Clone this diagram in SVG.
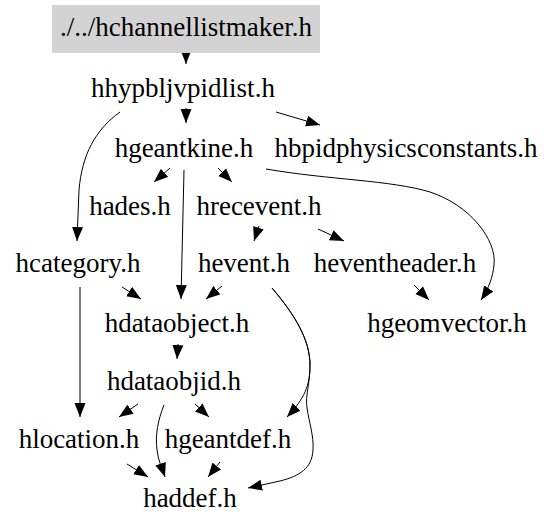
<svg xmlns="http://www.w3.org/2000/svg" width="555" height="528" viewBox="0 0 555 528">
<style>
text{font-family:'Liberation Serif',Tinos,'Times New Roman','DejaVu Serif',serif;font-size:27px;fill:#000;text-anchor:middle}
.e{fill:none;stroke:#000;stroke-width:1;marker-end:url(#a)}
</style>
<defs>
<marker id="a" markerUnits="userSpaceOnUse" markerWidth="15" markerHeight="12" refX="14" refY="5.5" orient="auto" viewBox="0 0 15 11">
<path d="M0,0 L14,5.5 L0,11 z" fill="#000"/>
</marker>
</defs>
<rect width="555" height="528" fill="#fff"/>
<g id="edges">
<path class="e" d="M186,53 L186,64"/>
<path class="e" d="M186,108 L186,123"/>
<path class="e" d="M276,112 L320,125"/>
<path class="e" d="M120,112 C95,130 82,155 79,190 L77,241"/>
<path class="e" d="M170,168 L154,182"/>
<path class="e" d="M218,168 L232,182"/>
<path class="e" d="M184,170 L181,299"/>
<path class="e" d="M266,169 C330,180 390,180 430,192 C470,205 497,240 494,265 C493,276 489,288 481,300"/>
<path class="e" d="M259,226 L254,241"/>
<path class="e" d="M318,229 L344,241"/>
<path class="e" d="M122,287 L141,299"/>
<path class="e" d="M80,287 L80,417"/>
<path class="e" d="M222,286 L206,299"/>
<path class="e" d="M272,288 C295,315 310,340 310,365 C310,385 305,398 287,417"/>
<path class="e" d="M272,288 C295,315 310,340 310,365 C310,385 305,395 307,408 C309,422 314,436 313,450 C312,468 300,476 280,481 L248,488"/>
<path class="e" d="M414,285 L429,300"/>
<path class="e" d="M178,344 L177,359"/>
<path class="e" d="M138,404 L119,417"/>
<path class="e" d="M195,404 L209,417"/>
<path class="e" d="M164,405 C158,420 155,435 157,450 C158,460 162,468 165,477"/>
<path class="e" d="M127,464 L148,477"/>
<path class="e" d="M220,462 L208,477"/>
</g>
<g id="hchannellistmaker"><rect x="52" y="5" width="268" height="48" fill="#d3d3d3"/><text x="186" y="36">./../hchannellistmaker.h</text></g>
<g id="hhypbljvpidlist"><text x="183" y="97">hhypbljvpidlist.h</text></g>
<g id="hgeantkine"><text x="184" y="157">hgeantkine.h</text></g>
<g id="hbpidphysicsconstants"><text x="406" y="157">hbpidphysicsconstants.h</text></g>
<g id="hades"><text x="130" y="215">hades.h</text></g>
<g id="hrecevent"><text x="259" y="215">hrecevent.h</text></g>
<g id="hcategory"><text x="78" y="272">hcategory.h</text></g>
<g id="hevent"><text x="244" y="272">hevent.h</text></g>
<g id="heventheader"><text x="395" y="272">heventheader.h</text></g>
<g id="hdataobject"><text x="177" y="332">hdataobject.h</text></g>
<g id="hgeomvector"><text x="447" y="332">hgeomvector.h</text></g>
<g id="hdataobjid"><text x="174" y="390">hdataobjid.h</text></g>
<g id="hlocation"><text x="79" y="448">hlocation.h</text></g>
<g id="hgeantdef"><text x="228" y="448">hgeantdef.h</text></g>
<g id="haddef"><text x="190" y="507">haddef.h</text></g>
</svg>
